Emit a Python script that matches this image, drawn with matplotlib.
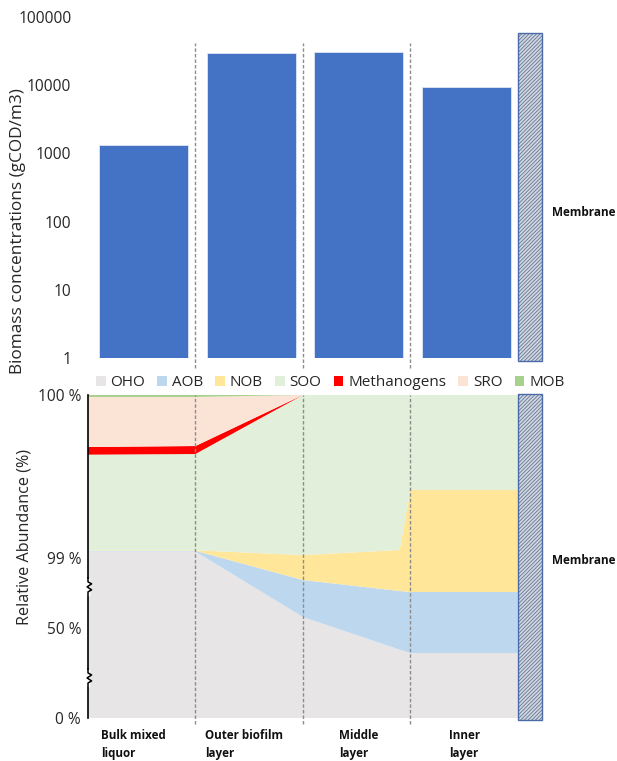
import numpy as np
import matplotlib
matplotlib.use("Agg")
import matplotlib.pyplot as plt
from matplotlib.patches import Rectangle, Patch
import matplotlib.transforms as mtransforms

plt.rcParams['font.family'] = ['Open Sans', 'DejaVu Sans']
plt.rcParams['hatch.linewidth'] = 0.6

# ---------------- data ----------------
layers = ["Bulk mixed\nliquor", "Outer biofilm\nlayer", "Middle\nlayer", "Inner\nlayer"]
biomass = [1350, 30000, 31000, 9400]          # gCOD/m3
biomass_ticks = [1, 10, 100, 1000, 10000, 100000]

# relative abundance (%) at positions along the biofilm
pos = [0.0, 1.0, 2.0, 2.9, 3.0, 4.0]
groups = ["OHO", "AOB", "NOB", "SOO", "Methanogens", "SRO", "MOB"]
OHO = [99.04, 99.04, 57.7, 38.0, 36.1, 36.1]
AOB = [0.004, 0.004, 25.9, 37.9, 39.1, 39.1]
NOB = [0.003, 0.003, 15.418, 23.149, 24.217, 24.217]
SOO = [0.587, 0.591, 0.982, 0.951, 0.583, 0.583]
Methanogens = [0.047, 0.049, 0.0, 0.0, 0.0, 0.0]
SRO = [0.307, 0.301, 0.0, 0.0, 0.0, 0.0]
MOB = [0.012, 0.012, 0.0, 0.0, 0.0, 0.0]
abund_ticks = [0, 50, 99, 100]
abund_labels = ["0 %", "50 %", "99 %", "100 %"]

colors = ["#e7e5e5", "#bdd7ee", "#ffe699", "#e2efda", "#ff0000", "#fbe3d6", "#a9d18e"]
bar_color = "#4472c4"
txt = "#262626"

W, H = 617, 761
fig = plt.figure(figsize=(W / 100, H / 100), dpi=100)

def px_axes(l, t, r, b):
    return fig.add_axes([l / W, 1 - b / H, (r - l) / W, (b - t) / H])

xmax = 4.3
# ---------------- top panel ----------------
ax1 = px_axes(88, 17, 550, 358)
xc = np.arange(len(biomass)) + 0.52
ax1.bar(xc, biomass, width=0.83, color=bar_color, edgecolor="#dfe6f3", linewidth=0.6, zorder=2)
ax1.set_yscale("log")
ax1.set_ylim(1, 1e5)
ax1.set_xlim(0, xmax)
ax1.set_yticks(biomass_ticks)
ax1.set_yticklabels([str(v) for v in biomass_ticks])
ax1.minorticks_off()
ax1.tick_params(axis="y", length=0, pad=12, labelsize=11.2, labelcolor=txt)
ax1.set_xticks([])
for s in ax1.spines.values():
    s.set_visible(False)
for xv in [1, 2, 3]:
    ax1.axvline(xv, ymin=-0.03, ymax=0.924, color="#8c8c8c", lw=1.0,
                ls=(0, (2.5, 1.5)), clip_on=False, zorder=1)
tr1 = mtransforms.blended_transform_factory(ax1.transData, ax1.transAxes)
ax1.add_patch(Rectangle((4.0, -0.01), 0.23, 0.962, transform=tr1, facecolor="#d0d7e3",
                        edgecolor="#66768f", hatch="/////////", lw=0, clip_on=False, zorder=2))
ax1.add_patch(Rectangle((4.0, -0.01), 0.23, 0.962, transform=tr1, facecolor="none",
                        edgecolor="#4a6aa8", lw=1.0, clip_on=False, zorder=3))
fig.text(552 / W, 1 - 212 / H, "Membrane", fontsize=8.5, fontweight="bold", color="#111111",
         ha="left", va="center")
fig.text(18 / W, 1 - 231 / H, "Biomass concentrations (gCOD/m3)", rotation=90,
         fontsize=12.4, color=txt, ha="center", va="center")

# ---------------- bottom panel ----------------
vk = [0, 50, 99, 100]
pk = [0, 90, 160, 323]
fwd = lambda v: np.interp(v, vk, pk)
inv = lambda p: np.interp(p, pk, vk)

ax2 = px_axes(88, 395, 550, 718)
ax2.set_yscale("function", functions=(fwd, inv))
ax2.stackplot(pos, OHO, AOB, NOB, SOO, Methanogens, SRO, MOB, colors=colors,
              linewidth=0, zorder=1)
ax2.set_xlim(0, xmax)
ax2.set_ylim(0, 100)
ax2.set_yticks(abund_ticks)
ax2.set_yticklabels(abund_labels)
ax2.minorticks_off()
ax2.tick_params(axis="y", length=0, pad=5, labelsize=11.2, labelcolor=txt)
ax2.set_xticks([])
for k in ["top", "right", "bottom"]:
    ax2.spines[k].set_visible(False)
ax2.spines["left"].set_color("black")
ax2.spines["left"].set_linewidth(1.2)
ax2.spines["left"].set_zorder(5)
for xv in [1, 2, 3]:
    ax2.axvline(xv, ymin=-0.02, ymax=1.0, color="#8c8c8c", lw=1.0,
                ls=(0, (2.5, 1.5)), clip_on=False, zorder=3)

# axis break marks
for yf in [0.406, 0.124]:
    dx = 4.5 / 462
    dy = 1 / 323
    xs = [0, 0, dx * 0.8, -dx * 0.2, dx * 0.8, 0, 0]
    ys = [yf + 9 * dy, yf + 5 * dy, yf + 3 * dy, yf, yf - 3 * dy, yf - 5 * dy, yf - 9 * dy]
    ax2.plot([0, 0], [yf - 7 * dy, yf + 7 * dy], transform=ax2.transAxes, color="white",
             lw=2.5, clip_on=False, zorder=6)
    ax2.plot(xs, ys, transform=ax2.transAxes, color="black", lw=1.1, clip_on=False, zorder=7)

tr2 = mtransforms.blended_transform_factory(ax2.transData, ax2.transAxes)
ax2.add_patch(Rectangle((4.0, -0.006), 0.23, 1.009, transform=tr2, facecolor="#d0d7e3",
                        edgecolor="#66768f", hatch="/////////", lw=0, clip_on=False, zorder=4))
ax2.add_patch(Rectangle((4.0, -0.006), 0.23, 1.009, transform=tr2, facecolor="none",
                        edgecolor="#4a6aa8", lw=1.0, clip_on=False, zorder=4))
fig.text(552 / W, 1 - 560 / H, "Membrane", fontsize=8.5, fontweight="bold", color="#111111",
         ha="left", va="center")
fig.text(25 / W, 1 - 537 / H, "Relative Abundance (%)", rotation=90,
         fontsize=11.6, color=txt, ha="center", va="center")

label_x = [101, 205, 339, 449]
for lx, lab in zip(label_x, layers):
    fig.text(lx / W, 1 - 729 / H, lab, fontsize=8.4, fontweight="bold", color="#111111",
             ha="left", va="top", linespacing=1.45)

handles = [Patch(facecolor=c, edgecolor="none") for c in colors]
fig.legend(handles, groups, loc="center", bbox_to_anchor=(330 / W, 1 - 383 / H), ncol=7,
           frameon=False, fontsize=11.0, handlelength=0.65, handleheight=0.65,
           handletextpad=0.3, columnspacing=0.8, labelcolor=txt)

fig.savefig("out.png", dpi=100)
